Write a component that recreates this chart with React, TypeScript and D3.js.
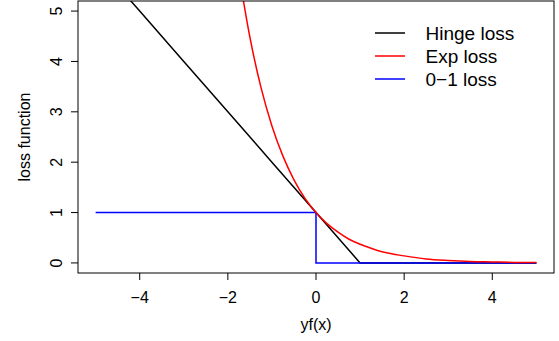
import React from "react";
import * as d3 from "d3";

// values
const hingeX = [-5, -4, -3, -2, -1, 0, 1, 2, 3, 4, 5];
const hingeY = [6, 5, 4, 3, 2, 1, 0, 0, 0, 0, 0];

const expX = [-1.75, -1.5, -1.25, -1, -0.75, -0.5, -0.25, 0, 0.25, 0.5, 0.75, 1, 1.25, 1.5, 2, 2.5, 3, 3.5, 4, 4.5, 5];
const expY = [5.75, 4.48, 3.49, 2.72, 2.12, 1.65, 1.28, 1, 0.78, 0.61, 0.47, 0.37, 0.29, 0.22, 0.14, 0.08, 0.05, 0.03, 0.02, 0.01, 0.007];

const zeroOneX = [-5, 0, 0, 5];
const zeroOneY = [1, 1, 0, 0];

const xTicks = [-4, -2, 0, 2, 4];
const yTicks = [0, 1, 2, 3, 4, 5];

const legendLabels = ["Hinge loss", "Exp loss", "0\u22121 loss"];
const legendColors = ["#000000", "#ff0000", "#0000ff"];

const W = 559;
const H = 341;
const box = { left: 78, right: 554, top: 1, bottom: 273 };
const font = "'Liberation Sans', Arial, Helvetica, sans-serif";

const fmt = (v: number) => (v < 0 ? "\u2212" + Math.abs(v) : String(v));

export default function App() {
  const x = d3.scaleLinear().domain([-5.4, 5.4]).range([box.left, box.right]);
  const y = d3.scaleLinear().domain([-0.2, 5.2]).range([box.bottom, box.top]);

  const line = d3
    .line<[number, number]>()
    .x((d) => x(d[0]))
    .y((d) => y(d[1]));
  const smooth = d3
    .line<[number, number]>()
    .x((d) => x(d[0]))
    .y((d) => y(d[1]))
    .curve(d3.curveMonotoneX);

  const hinge = hingeX.map((v, i) => [v, hingeY[i]] as [number, number]);
  const expo = expX.map((v, i) => [v, expY[i]] as [number, number]);
  const step = zeroOneX.map((v, i) => [v, zeroOneY[i]] as [number, number]);

  return (
    <svg
      width={W}
      height={H}
      style={{ position: "absolute", left: 0, top: 0, background: "#fff" }}
      fontFamily={font}
    >
      <defs>
        <clipPath id="plotArea">
          <rect x={box.left} y={box.top} width={box.right - box.left} height={box.bottom - box.top} />
        </clipPath>
      </defs>

      <g clipPath="url(#plotArea)" fill="none" strokeWidth={1.5}>
        <path d={line(hinge) || ""} stroke="#000" />
        <path d={line(step) || ""} stroke="#0000ff" />
        <path d={smooth(expo) || ""} stroke="#ff0000" />
      </g>

      <rect
        x={box.left}
        y={box.top}
        width={box.right - box.left}
        height={box.bottom - box.top}
        fill="none"
        stroke="#000"
        strokeWidth={1}
      />

      {/* x axis */}
      {xTicks.map((t) => (
        <g key={"x" + t}>
          <line x1={x(t)} x2={x(t)} y1={box.bottom} y2={box.bottom + 7} stroke="#000" />
          <text x={x(t)} y={303} textAnchor="middle" fontSize={16}>
            {fmt(t)}
          </text>
        </g>
      ))}

      {/* y axis */}
      {yTicks.map((t) => (
        <g key={"y" + t}>
          <line x1={box.left - 7} x2={box.left} y1={y(t)} y2={y(t)} stroke="#000" />
          <text
            transform={`translate(61.5,${y(t)}) rotate(-90)`}
            textAnchor="middle"
            fontSize={16}
          >
            {fmt(t)}
          </text>
        </g>
      ))}

      <text x={316} y={329.5} textAnchor="middle" fontSize={16}>
        yf(x)
      </text>
      <text transform="translate(30,137) rotate(-90)" textAnchor="middle" fontSize={16}>
        loss function
      </text>

      {/* legend */}
      {legendLabels.map((lab, i) => (
        <g key={lab}>
          <line
            x1={375}
            x2={405}
            y1={33 + i * 23}
            y2={33 + i * 23}
            stroke={legendColors[i]}
            strokeWidth={1.5}
          />
          <text x={425.5} y={40 + i * 23} fontSize={19}>
            {lab}
          </text>
        </g>
      ))}
    </svg>
  );
}
